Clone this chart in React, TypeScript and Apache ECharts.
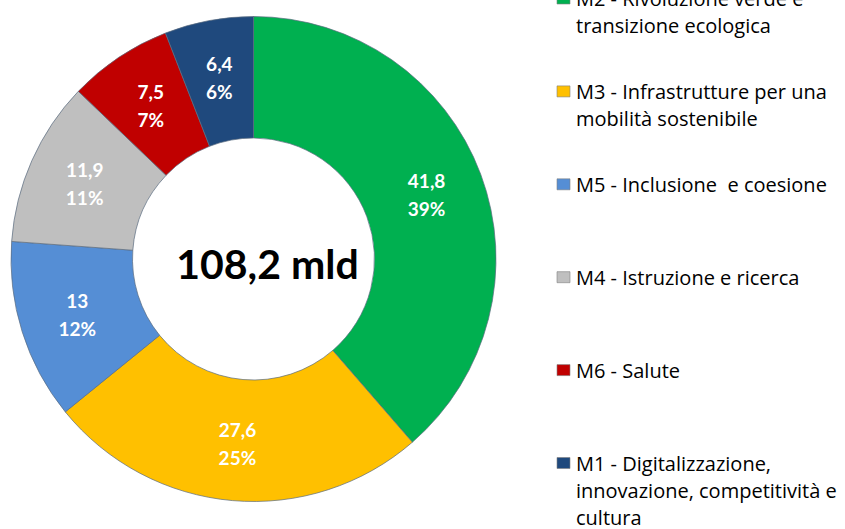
import React, { useEffect, useRef } from "react";
import * as echarts from "echarts";

const categories = [
  "M2 - Rivoluzione verde e transizione ecologica",
  "M3 - Infrastrutture per una mobilità sostenibile",
  "M5 - Inclusione  e coesione",
  "M4 - Istruzione e ricerca",
  "M6 - Salute",
  "M1 - Digitalizzazione, innovazione, competitività e cultura",
];
const legendLabels = [
  ["M2 - Rivoluzione verde e", "transizione ecologica"],
  ["M3 - Infrastrutture per una", "mobilità sostenibile"],
  ["M5 - Inclusione  e coesione"],
  ["M4 - Istruzione e ricerca"],
  ["M6 - Salute"],
  ["M1 - Digitalizzazione,", "innovazione, competitività e", "cultura"],
];
const values = [41.8, 27.6, 13, 11.9, 7.5, 6.4];
const percentLabels = ["39%", "25%", "12%", "11%", "7%", "6%"];
const colors = ["#00B050", "#FFC000", "#558ED5", "#BFBFBF", "#C00000", "#1F497D"];
const totalLabel = "108,2 mld";

const FONT = "Lato, 'Open Sans', sans-serif";
const LEGEND_FONT = "'Open Sans', Lato, sans-serif";

export default function App() {
  const ref = useRef<HTMLDivElement>(null);
  useEffect(() => {
    if (!ref.current) return;
    const chart = echarts.init(ref.current, null, { renderer: "svg" });
    const legendGraphics: any[] = [];
    categories.forEach((name, i) => {
      const cy = -1.5 + i * 92.9;
      legendGraphics.push({
        type: "rect",
        shape: { x: 557, y: cy - 5.5, width: 13, height: 11 },
        style: { fill: colors[i], stroke: "#808080", lineWidth: 0.6 },
      });
      legendLabels[i].forEach((line, k) => {
        legendGraphics.push({
          type: "text",
          x: 576,
          y: cy + k * 27,
          style: {
            text: line,
            font: `20px ${LEGEND_FONT}`,
            fill: "#000000",
            verticalAlign: "middle",
            align: "left",
          },
        });
      });
    });
    chart.setOption({
      animation: false,
      backgroundColor: "#ffffff",
      series: [
        {
          type: "pie",
          center: [253.5, 259],
          radius: [121, 242.5],
          startAngle: 90,
          clockwise: true,
          avoidLabelOverlap: false,
          itemStyle: { borderColor: "#5a6b80", borderWidth: 0.7 },
          label: {
            show: true,
            position: "inside",
            color: "#ffffff",
            fontFamily: FONT,
            fontWeight: "bold",
            fontSize: 19,
            lineHeight: 28,
            formatter: (p: any) =>
              String(values[p.dataIndex]).replace(".", ",") + "\n" + percentLabels[p.dataIndex],
          },
          labelLine: { show: false },
          emphasis: { disabled: true },
          data: categories.map((n, i) => ({ name: n, value: values[i], itemStyle: { color: colors[i] } })),
        },
      ],
      graphic: [
        {
          type: "text",
          x: 267.5,
          y: 263,
          style: {
            text: totalLabel,
            font: `bold 41px ${FONT}`,
            fill: "#000000",
            align: "center",
            verticalAlign: "middle",
          },
        },
        ...legendGraphics,
      ],
    });
    return () => chart.dispose();
  }, []);
  return <div ref={ref} style={{ width: 845, height: 529, position: "absolute", left: 0, top: 0 }} />;
}
